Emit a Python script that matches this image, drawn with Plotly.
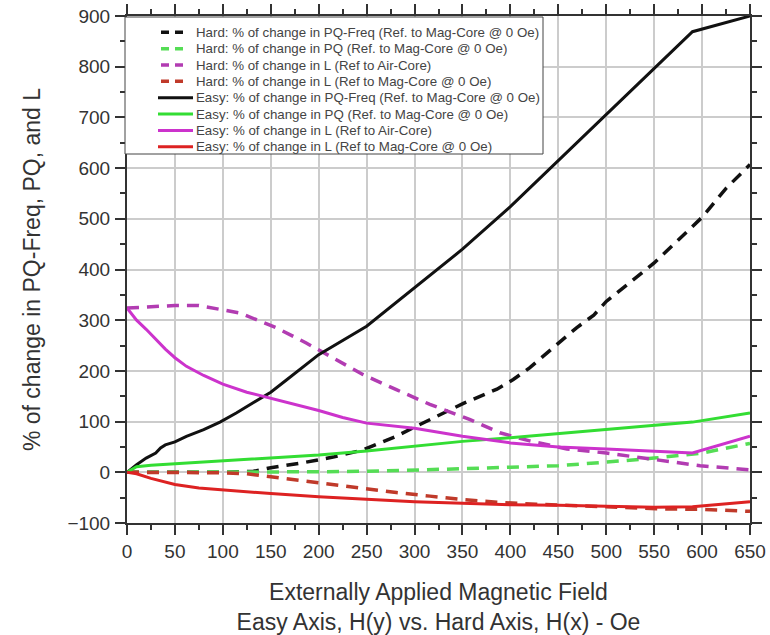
import plotly.graph_objects as go

# Externally applied field (Oe) and the percentage changes for each series
easy_pqf_h = [0, 10, 20, 30, 35, 40, 50, 62, 80, 97, 114, 132, 150, 167, 184, 200, 250, 300, 350, 400, 450, 500, 550, 590, 650]
easy_pqf = [0, 15, 28, 38, 48, 54, 60, 71, 84, 99, 117, 137, 158, 183, 209, 232, 288, 364, 440, 524, 615, 706, 795, 869, 900]

easy_pq_h = [0, 10, 25, 50, 100, 150, 200, 250, 300, 350, 400, 450, 500, 550, 590, 650]
easy_pq = [0, 11, 14, 17, 22, 28, 34, 42, 51, 61, 68, 76, 85, 92, 99, 117]

easy_lair_h = [0, 10, 20, 30, 40, 50, 62, 80, 100, 125, 150, 175, 200, 225, 250, 300, 350, 400, 450, 500, 550, 590, 650]
easy_lair = [324, 300, 282, 262, 243, 226, 209, 191, 174, 158, 146, 135, 122, 108, 97, 87, 71, 58, 50, 46, 42, 38, 71]

easy_lmag_h = [0, 10, 25, 50, 75, 100, 150, 200, 250, 300, 350, 400, 450, 500, 550, 590, 650]
easy_lmag = [0, -3, -12, -24, -31, -35, -42, -48, -53, -58, -61, -64, -65, -67, -69, -68, -58]

hard_pqf_h = [0, 50, 100, 132, 150, 184, 215, 246, 281, 302, 333, 351, 386, 403, 420, 438, 452, 469, 487, 500, 520, 550, 600, 625, 650]
hard_pqf = [0, 0, 0, 2, 9, 19, 30, 44, 71, 91, 120, 136, 164, 183, 206, 235, 258, 285, 310, 337, 367, 413, 503, 560, 607]

hard_pq_h = [0, 50, 100, 150, 200, 250, 300, 350, 400, 450, 500, 550, 600, 650]
hard_pq = [0, 0, 0, 0, 1, 2, 4, 7, 10, 13, 20, 28, 38, 57]

hard_lair_h = [0, 25, 50, 75, 100, 118, 135, 156, 187, 212, 246, 281, 316, 358, 389, 420, 459, 500, 552, 598, 650]
hard_lair = [324, 327, 329, 329, 321, 314, 301, 285, 255, 229, 193, 163, 134, 104, 78, 62, 46, 38, 25, 13, 5]

hard_lmag_h = [0, 50, 100, 125, 150, 184, 222, 250, 281, 316, 351, 386, 427, 500, 552, 598, 650]
hard_lmag = [0, 0, -1, -3, -9, -17, -27, -34, -40, -47, -54, -59, -63, -68, -72, -73, -77]

BLACK = "#111111"
GREEN = "#33dd33"
MAGENTA = "#cc33cc"
RED = "#dd2222"

series = [
    ("Hard: % of change in PQ-Freq (Ref. to Mag-Core @ 0 Oe)", hard_pqf_h, hard_pqf, BLACK, "dash"),
    ("Hard: % of change in PQ (Ref. to Mag-Core @ 0 Oe)", hard_pq_h, hard_pq, "#55dd55", "dash"),
    ("Hard: % of change in L (Ref to Air-Core)", hard_lair_h, hard_lair, "#b23cb2", "dash"),
    ("Hard: % of change in L (Ref to Mag-Core @ 0 Oe)", hard_lmag_h, hard_lmag, "#c03a2a", "dash"),
    ("Easy: % of change in PQ-Freq (Ref. to Mag-Core @ 0 Oe)", easy_pqf_h, easy_pqf, BLACK, "solid"),
    ("Easy: % of change in PQ (Ref. to Mag-Core @ 0 Oe)", easy_pq_h, easy_pq, GREEN, "solid"),
    ("Easy: % of change in L (Ref to Air-Core)", easy_lair_h, easy_lair, MAGENTA, "solid"),
    ("Easy: % of change in L (Ref to Mag-Core @ 0 Oe)", easy_lmag_h, easy_lmag, RED, "solid"),
]

W, H = 770, 635
M_L, M_R, M_T, M_B = 127, 20, 16, 112
PLOT_W = W - M_L - M_R
PLOT_H = H - M_T - M_B


def px_x(p):
    """Pixel column -> paper x."""
    return (p - M_L) / PLOT_W


def px_y(p):
    """Pixel row -> paper y."""
    return 1 - (p - M_T) / PLOT_H


FONT = "Liberation Sans, Arial, sans-serif"

fig = go.Figure()
for name, xs, ys, color, dash in series:
    fig.add_trace(go.Scatter(
        x=xs, y=ys, name=name, mode="lines", showlegend=False,
        line=dict(color=color, width=3.5 if dash != "solid" else 3,
                  dash="12px,8px" if dash != "solid" else "solid"),
    ))

# Compact key box in the upper-left corner of the plot
shapes = [dict(
    type="rect", xref="paper", yref="paper", layer="above",
    x0=px_x(125), x1=px_x(543), y0=px_y(154), y1=px_y(17),
    fillcolor="white", line=dict(color="#444444", width=1),
)]
annotations = []
ROW0, ROW_STEP = 32.3, 16.35
for i, (name, xs, ys, color, dash) in enumerate(series):
    ry = px_y(ROW0 + i * ROW_STEP)
    if dash == "solid":
        x0, x1, ln = 158, 193, dict(color=color, width=3)
    else:
        x0, x1, ln = 161, 185, dict(color=color, width=3.5, dash="8px,6px")
    shapes.append(dict(type="line", xref="paper", yref="paper", layer="above",
                       x0=px_x(x0), x1=px_x(x1), y0=ry, y1=ry, line=ln))
    annotations.append(dict(
        xref="paper", yref="paper", x=px_x(194), y=ry,
        xanchor="left", yanchor="middle", showarrow=False, text=name,
        font=dict(family=FONT, size=13.3, color="#444444"),
    ))

axis_common = dict(
    showline=True, linecolor="#333333", linewidth=2, mirror="ticks",
    ticks="outside", ticklen=10, tickwidth=1.5, tickcolor="#333333",
    showgrid=True, gridcolor="#cccccc", gridwidth=1.5, zeroline=False,
    tickfont=dict(family=FONT, size=19, color="#333333"),
    automargin=False,
)

fig.update_xaxes(
    range=[0, 650], tick0=0, dtick=50,
    minor=dict(dtick=25, ticks="outside", ticklen=5, tickcolor="#333333", showgrid=False),
    title=dict(text="Externally Applied Magnetic Field<br>Easy Axis, H(y) vs. Hard Axis, H(x) - Oe",
               font=dict(family=FONT, size=23, color="#333333"), standoff=26),
    ticklabelstandoff=0,
    **axis_common,
)
fig.update_yaxes(
    range=[-100, 900], tick0=0, dtick=100,
    minor=dict(dtick=50, ticks="outside", ticklen=5, tickcolor="#333333", showgrid=False),
    title=dict(text="% of change in PQ-Freq, PQ, and L",
               font=dict(family=FONT, size=23, color="#333333"), standoff=20),
    ticklabelstandoff=1,
    **axis_common,
)

fig.update_layout(
    width=W, height=H,
    margin=dict(l=M_L, r=M_R, t=M_T, b=M_B),
    plot_bgcolor="white", paper_bgcolor="white",
    font=dict(family=FONT, color="#333333"),
    showlegend=False,
    shapes=shapes,
    annotations=annotations,
)

fig.write_html("out.html")
